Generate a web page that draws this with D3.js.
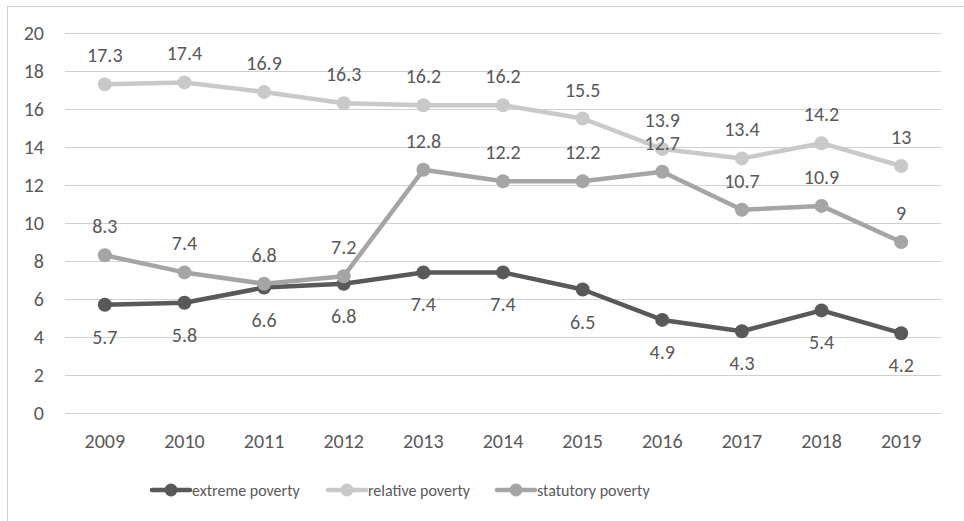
<!DOCTYPE html>
<html><head><meta charset="utf-8">
<script src="https://cdn.jsdelivr.net/npm/d3@7"></script>
<style>body{margin:0;background:#fff}svg{display:block}</style>
</head><body><div id="chart"></div>
<script>
const years = ['2009','2010','2011','2012','2013','2014','2015','2016','2017','2018','2019'];
const extreme = [5.7,5.8,6.6,6.8,7.4,7.4,6.5,4.9,4.3,5.4,4.2];
const relative = [17.3,17.4,16.9,16.3,16.2,16.2,15.5,13.9,13.4,14.2,13];
const statutory = [8.3,7.4,6.8,7.2,12.8,12.2,12.2,12.7,10.7,10.9,9];
const yTicks = [0,2,4,6,8,10,12,14,16,18,20];

const series = [
  {name:'extreme poverty', vals:extreme, color:'#595959', pos:'below'},
  {name:'relative poverty', vals:relative, color:'#c9c9c9', pos:'above'},
  {name:'statutory poverty', vals:statutory, color:'#a5a5a5', pos:'above'}
];

const W=964,H=521;
const font='Carlito, Lato, "Open Sans", sans-serif';
const svg=d3.select('#chart').append('svg').attr('width',W).attr('height',H);
svg.append('rect').attr('x',7.5).attr('y',6.5).attr('width',W).attr('height',H)
  .attr('fill','#fff').attr('stroke','#d0d0d0').attr('stroke-width',1);

const x=d3.scaleBand().domain(years).range([65,941]);
const y=d3.scaleLinear().domain([0,20]).range([413,33]);
const cx=(d,i)=>x(years[i])+x.bandwidth()/2;

// grid
svg.append('g').selectAll('line').data(yTicks).join('line')
  .attr('x1',65).attr('x2',941).attr('y1',d=>Math.round(y(d))+0.5).attr('y2',d=>Math.round(y(d))+0.5)
  .attr('stroke','#d0d0d0').attr('stroke-width',1);
svg.append('g').selectAll('text').data(yTicks).join('text')
  .attr('x',44).attr('y',d=>y(d)+7).attr('text-anchor','end')
  .style('font-family',font).style('font-size','20px').style('fill','#595959').text(d=>d);
svg.append('g').selectAll('text').data(years).join('text')
  .attr('x',d=>x(d)+x.bandwidth()/2).attr('y',448).attr('text-anchor','middle')
  .style('font-family',font).style('font-size','20px').style('fill','#595959').text(d=>d);

const line=d3.line().x(cx).y(d=>y(d));
series.forEach(s=>{
  const g=svg.append('g');
  g.append('path').datum(s.vals).attr('d',line).attr('fill','none')
    .attr('stroke',s.color).attr('stroke-width',4.5).attr('stroke-linejoin','round');
  g.selectAll('circle').data(s.vals).join('circle')
    .attr('cx',cx).attr('cy',d=>y(d)).attr('r',7)
    .attr('fill',s.color);
});
series.forEach(s=>{
  svg.append('g').selectAll('text').data(s.vals).join('text')
    .attr('x',cx)
    .attr('y',d=>s.pos==='above'?y(d)-22:y(d)+39)
    .attr('text-anchor','middle')
    .style('font-family',font).style('font-size','20px').style('fill','#595959').text(d=>d);
});

// legend
const legX=[152,328,497];
series.forEach((s,i)=>{
  const lg=svg.append('g').attr('transform',`translate(${legX[i]},490)`);
  lg.append('line').attr('x1',0).attr('x2',38).attr('y1',0).attr('y2',0)
    .attr('stroke',s.color).attr('stroke-width',4.5).attr('stroke-linecap','round');
  lg.append('circle').attr('cx',19).attr('cy',0).attr('r',6.5).attr('fill',s.color);
  lg.append('text').attr('x',40).attr('y',6)
    .style('font-family',font).style('font-size','16px').style('fill','#595959').text(s.name);
});
</script></body></html>
